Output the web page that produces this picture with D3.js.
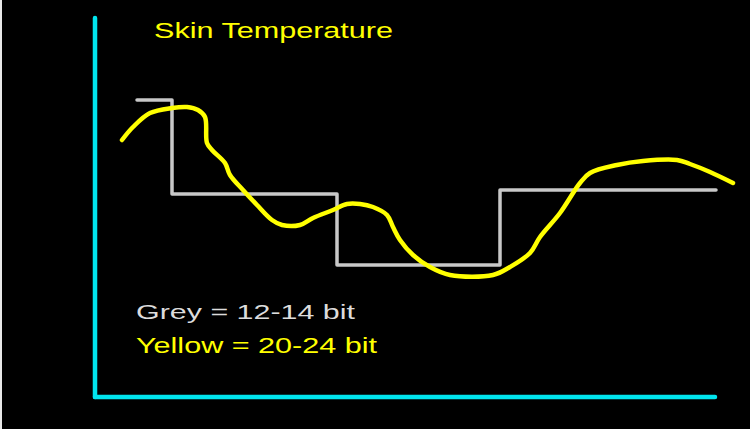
<!DOCTYPE html>
<html>
<head>
<meta charset="utf-8">
<script src="https://cdn.jsdelivr.net/npm/d3@7"></script>
<style>
  html, body { margin: 0; padding: 0; background: #000; }
  svg { display: block; }
</style>
</head>
<body>
<svg id="chart" width="750" height="429"></svg>
<script>
// Title and legend labels
const title = "Skin Temperature";
const legendLabels = ["Grey = 12-14 bit", "Yellow = 20-24 bit"];

// Grey (low resolution, stepped) series: time and temperature levels
const greyTime = [42, 77, 242, 405, 621];
const greyTemp = [297, 203, 132, 207, 207];

// Yellow (high resolution) series
const yellowTime = [27, 38, 55, 77, 92, 103, 110, 112, 117, 130, 135, 148, 162, 177, 187, 205, 218, 238, 252, 265, 278, 292, 298, 305, 318, 335, 355, 398, 415, 435, 445, 465, 485, 495, 522, 548, 582, 595, 615, 638];
const yellowTemp = [257, 270, 284, 289, 290, 287, 280, 254, 247, 234, 222, 207, 192, 177, 172, 172, 179, 187, 193, 193, 190, 182, 170, 157, 142, 130, 122, 122, 130, 144, 160, 184, 214, 224, 232, 236, 237, 233, 225, 214];

const svg = d3.select("#chart");
const W = 750, H = 429;

// background + left white edge
svg.append("rect").attr("x", 0).attr("y", 0).attr("width", W).attr("height", H).attr("fill", "#000");
svg.append("rect").attr("x", 0).attr("y", 0).attr("width", 2).attr("height", H).attr("fill", "#e8e8e8");

const x = d3.scaleLinear().domain([0, 620]).range([95, 715]);
const y = d3.scaleLinear().domain([0, 379]).range([397, 18]);

// axes (cyan L)
const axisColor = "#00e5ee";
svg.append("line")
  .attr("x1", x(0)).attr("x2", x(0)).attr("y1", y(379)).attr("y2", y(0))
  .attr("stroke", axisColor).attr("stroke-width", 4.5).attr("stroke-linecap", "round");
svg.append("line")
  .attr("x1", x(0)).attr("x2", x(620)).attr("y1", y(0)).attr("y2", y(0))
  .attr("stroke", axisColor).attr("stroke-width", 4.5).attr("stroke-linecap", "round");

// grey step line
const greyData = greyTime.map((t, i) => [t, greyTemp[i]]);
svg.append("path")
  .datum(greyData)
  .attr("d", d3.line().x(d => x(d[0])).y(d => y(d[1])).curve(d3.curveStepAfter))
  .attr("fill", "none")
  .attr("stroke", "#c8c8c8")
  .attr("stroke-width", 3.5)
  .attr("stroke-linecap", "round")
  .attr("stroke-linejoin", "round");

// yellow smooth line
const yellowData = yellowTime.map((t, i) => [t, yellowTemp[i]]);
svg.append("path")
  .datum(yellowData)
  .attr("d", d3.line().x(d => x(d[0])).y(d => y(d[1])).curve(d3.curveCatmullRom))
  .attr("fill", "none")
  .attr("stroke", "#ffff00")
  .attr("stroke-width", 4.5)
  .attr("stroke-linecap", "round")
  .attr("stroke-linejoin", "round");

// title
svg.append("text")
  .attr("x", 154).attr("y", 38)
  .attr("font-family", "'Liberation Sans', Arial, sans-serif")
  .attr("font-size", 22)
  .attr("textLength", 239)
  .attr("lengthAdjust", "spacingAndGlyphs")
  .attr("fill", "#ffff00")
  .text(title);

// legend texts
svg.append("text")
  .attr("x", 136).attr("y", 319)
  .attr("font-family", "'Liberation Sans', Arial, sans-serif")
  .attr("font-size", 21)
  .attr("textLength", 219)
  .attr("lengthAdjust", "spacingAndGlyphs")
  .attr("fill", "#dcdcdc")
  .text(legendLabels[0]);
svg.append("text")
  .attr("x", 136).attr("y", 353)
  .attr("font-family", "'Liberation Sans', Arial, sans-serif")
  .attr("font-size", 22)
  .attr("textLength", 241)
  .attr("lengthAdjust", "spacingAndGlyphs")
  .attr("fill", "#ffff00")
  .text(legendLabels[1]);
</script>
</body>
</html>
